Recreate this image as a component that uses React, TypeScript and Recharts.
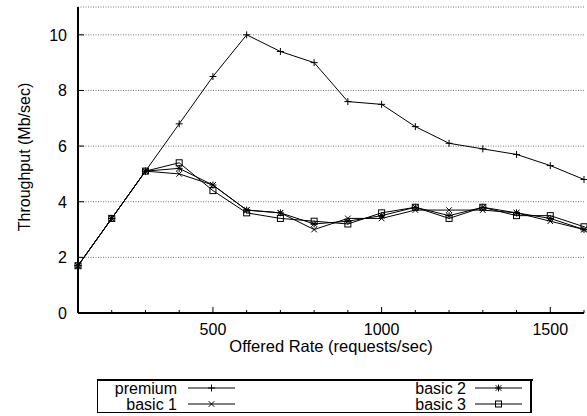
import React from "react";
import { LineChart, Line, XAxis, YAxis, CartesianGrid } from "recharts";

const rates = [100, 200, 300, 400, 500, 600, 700, 800, 900, 1000, 1100, 1200, 1300, 1400, 1500, 1600];
const premium = [1.7, 3.4, 5.1, 6.8, 8.5, 10.0, 9.4, 9.0, 7.6, 7.5, 6.7, 6.1, 5.9, 5.7, 5.3, 4.8];
const basic1 = [1.7, 3.4, 5.1, 5.0, 4.6, 3.7, 3.6, 3.0, 3.4, 3.4, 3.7, 3.7, 3.7, 3.6, 3.3, 3.0];
const basic2 = [1.7, 3.4, 5.1, 5.2, 4.6, 3.7, 3.6, 3.2, 3.3, 3.5, 3.8, 3.5, 3.8, 3.6, 3.4, 3.0];
const basic3 = [1.7, 3.4, 5.1, 5.4, 4.4, 3.6, 3.4, 3.3, 3.2, 3.6, 3.8, 3.4, 3.8, 3.5, 3.5, 3.1];

const xTicks = [100, 200, 300, 400, 500, 600, 700, 800, 900, 1000, 1100, 1200, 1300, 1400, 1500, 1600];
const xLabels = [500, 1000, 1500];
const yTicks = [0, 2, 4, 6, 8, 10];

type Shape = "plus" | "cross" | "star" | "square";

const series: { key: string; name: string; shape: Shape }[] = [
  { key: "premium", name: "premium", shape: "plus" },
  { key: "basic1", name: "basic 1", shape: "cross" },
  { key: "basic2", name: "basic 2", shape: "star" },
  { key: "basic3", name: "basic 3", shape: "square" },
];

const data = rates.map((r, i) => ({
  rate: r,
  premium: premium[i],
  basic1: basic1[i],
  basic2: basic2[i],
  basic3: basic3[i],
}));

const FONT = '"Liberation Sans", Arial, sans-serif';
const FS = 16;

function Marker({ cx, cy, shape }: { cx: number; cy: number; shape: Shape }) {
  if (cx == null || cy == null) return null;
  const p = 3.5;
  const c = 2.8;
  const plus = `M${cx - p},${cy}H${cx + p}M${cx},${cy - p}V${cy + p}`;
  const cross = `M${cx - c},${cy - c}L${cx + c},${cy + c}M${cx - c},${cy + c}L${cx + c},${cy - c}`;
  if (shape === "plus") return <path d={plus} stroke="#000" strokeWidth={1} fill="none" />;
  if (shape === "cross") return <path d={cross} stroke="#000" strokeWidth={1} fill="none" />;
  if (shape === "star") return <path d={plus + cross} stroke="#000" strokeWidth={1} fill="none" />;
  return <rect x={cx - 3} y={cy - 3} width={6} height={6} stroke="#000" strokeWidth={1} fill="none" />;
}

const dotFor = (shape: Shape) => (props: any) => (
  <Marker key={`${shape}-${props.index}`} cx={props.cx} cy={props.cy} shape={shape} />
);

function XTick(props: any) {
  const { x, y, payload } = props;
  const major = xLabels.includes(payload.value);
  return (
    <g>
      <line x1={x} y1={y} x2={x} y2={y - (major ? 6 : 3)} stroke="#000" />
      {major && (
        <text x={x} y={y + 22} textAnchor="middle" fontSize={FS} fontFamily={FONT} fill="#000">
          {payload.value}
        </text>
      )}
    </g>
  );
}

function XTickTop(props: any) {
  const { x, y, payload } = props;
  const major = xLabels.includes(payload.value);
  return <line x1={x} y1={y} x2={x} y2={y + (major ? 6 : 3)} stroke="#000" />;
}

function YTick(props: any) {
  const { x, y, payload } = props;
  return (
    <g>
      <line x1={x} y1={y} x2={x + 6} y2={y} stroke="#000" />
      <text x={x - 11} y={y + 6} textAnchor="end" fontSize={FS} fontFamily={FONT} fill="#000">
        {payload.value}
      </text>
    </g>
  );
}

function YTickRight(props: any) {
  const { x, y } = props;
  return <line x1={x} y1={y} x2={x - 6} y2={y} stroke="#000" />;
}

// gnuplot style key: two columns, filled column-first
function LegendBox() {
  const cols = [
    { textEnd: 80, l1: 91, l2: 138 },
    { textEnd: 369, l1: 378, l2: 425 },
  ];
  const rows = [9, 25];
  return (
    <svg width={436} height={35} style={{ position: "absolute", left: 97, top: 379, display: "block" }}>
      <rect x={0.5} y={0.5} width={434} height={33} fill="#fff" stroke="#000" />
      <line x1={0} y1={1} x2={436} y2={1} stroke="#000" strokeWidth={2} />
      <line x1={434} y1={0} x2={434} y2={34} stroke="#000" strokeWidth={2} />
      {series.map((s, i) => {
        const col = cols[Math.floor(i / 2)];
        const cy = rows[i % 2];
        const mid = (col.l1 + col.l2) / 2;
        return (
          <g key={s.key}>
            <text x={col.textEnd} y={cy + 6} textAnchor="end" fontSize={FS} fontFamily={FONT} fill="#000">
              {s.name}
            </text>
            <line x1={col.l1} y1={cy} x2={col.l2} y2={cy} stroke="#000" />
            <Marker cx={mid} cy={cy} shape={s.shape} />
          </g>
        );
      })}
    </svg>
  );
}

export default function App() {
  return (
    <div style={{ position: "absolute", left: 0, top: 0, width: 587, height: 416, background: "#fff" }}>
      <LineChart width={587} height={416} data={data} margin={{ top: 7, right: 3, bottom: 53, left: 0 }}>
        <CartesianGrid vertical={false} stroke="#555" strokeDasharray="1 1.5" strokeWidth={0.8} />
        <XAxis
          dataKey="rate"
          type="number"
          domain={[100, 1600]}
          ticks={xTicks}
          interval={0}
          tickSize={0}
          tickMargin={0}
          tickLine={false}
          tick={<XTick />}
          axisLine={{ stroke: "#000", strokeWidth: 2 }}
          height={50}
          label={{
            value: "Offered Rate (requests/sec)",
            position: "insideTop",
            offset: 27,
            fontSize: 16.5,
            fontFamily: FONT,
            fill: "#000",
          }}
        />
        <XAxis
          xAxisId="top"
          dataKey="rate"
          type="number"
          orientation="top"
          domain={[100, 1600]}
          ticks={xTicks}
          interval={0}
          tickSize={0}
          tickMargin={0}
          tickLine={false}
          tick={<XTickTop />}
          axisLine={{ stroke: "#000", strokeWidth: 2 }}
          height={0}
        />
        <YAxis
          type="number"
          domain={[0, 11]}
          ticks={yTicks}
          interval={0}
          tickSize={0}
          tickMargin={0}
          tickLine={false}
          tick={<YTick />}
          axisLine={{ stroke: "#000", strokeWidth: 2 }}
          width={78}
          label={{
            content: (lp: any) => {
              const vb = lp.viewBox || { x: 0, y: 0, height: 0 };
              const cx = 24;
              const cy = vb.y + vb.height / 2 - 3;
              return (
                <text
                  x={cx}
                  y={cy}
                  transform={`rotate(-90 ${cx} ${cy})`}
                  textAnchor="middle"
                  dominantBaseline="central"
                  fontSize={FS}
                  fontFamily={FONT}
                  fill="#000"
                >
                  Throughput (Mb/sec)
                </text>
              );
            },
          }}
        />
        <YAxis
          yAxisId="right"
          orientation="right"
          type="number"
          domain={[0, 11]}
          ticks={yTicks}
          interval={0}
          tickSize={0}
          tickMargin={0}
          tickLine={false}
          tick={<YTickRight />}
          axisLine={{ stroke: "#000", strokeWidth: 2 }}
          width={0}
        />
        {series.map((s) => (
          <Line
            key={s.key}
            name={s.name}
            dataKey={s.key}
            stroke="#000"
            strokeWidth={1}
            dot={dotFor(s.shape)}
            activeDot={false}
            isAnimationActive={false}
          />
        ))}
      </LineChart>
      <LegendBox />
    </div>
  );
}
